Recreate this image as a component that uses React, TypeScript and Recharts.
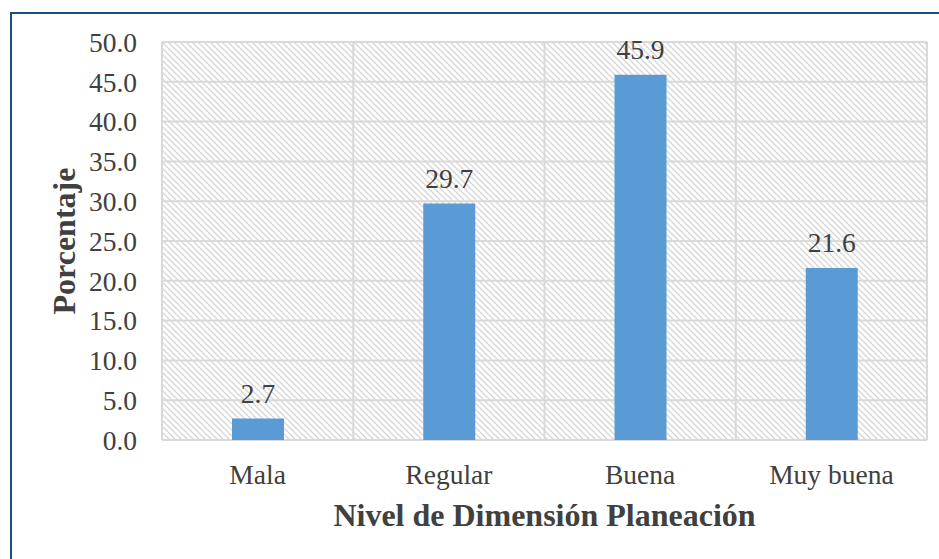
import { BarChart, Bar, XAxis, YAxis, CartesianGrid, LabelList, Label } from "recharts";

const categories = ["Mala", "Regular", "Buena", "Muy buena"];
const porcentajes = [2.7, 29.7, 45.9, 21.6];
const yTicks = [0, 5, 10, 15, 20, 25, 30, 35, 40, 45, 50];

const data = categories.map((nivel, i) => ({ nivel, valor: porcentajes[i] }));

const FONT = "'Liberation Serif', 'Times New Roman', serif";
const TEXT = "#404040";

export default function App() {
  return (
    <div style={{ position: "absolute", left: 0, top: 0, width: 939, height: 559, overflow: "hidden", background: "#fff" }}>
      {/* chart frame, right and bottom edges fall outside the picture */}
      <div
        style={{
          position: "absolute",
          left: 10,
          top: 12,
          width: 1000,
          height: 600,
          borderLeft: "2px solid #1F4E79",
          borderTop: "2px solid #1F4E79",
        }}
      />
      <div style={{ position: "absolute", left: 0, top: 0 }}>
        <BarChart width={939} height={559} data={data} margin={{ top: 42, right: 12, bottom: 0, left: 0 }}>
          <defs>
            <pattern id="hatch" patternUnits="userSpaceOnUse" width="6" height="6">
              <rect width="6" height="6" fill="#fff" />
              <path d="M-1,-1 L7,7 M-1,5 L1,7 M5,-1 L7,1" stroke="#D6D6D6" strokeWidth="1.3" />
            </pattern>
          </defs>
          <CartesianGrid
            fill="url(#hatch)"
            stroke="#D9D9D9"
            strokeWidth={2}
            verticalCoordinatesGenerator={({ offset }: any) =>
              categories.map((_, i) => offset.left + (i * offset.width) / categories.length).concat(offset.left + offset.width)
            }
          />
          <XAxis
            dataKey="nivel"
            height={119}
            axisLine={false}
            tickLine={false}
            tickMargin={18}
            tick={{ fontFamily: FONT, fontSize: 27.5, fill: TEXT }}
          >
            <Label
              value="Nivel de Dimensión Planeación"
              position="insideBottom"
              offset={33}
              style={{ fontFamily: FONT, fontSize: 32, fontWeight: "bold", fill: TEXT }}
            />
          </XAxis>
          <YAxis
            width={162}
            domain={[0, 50]}
            ticks={yTicks}
            interval={0}
            axisLine={false}
            tickLine={false}
            tickMargin={19}
            tickFormatter={(v: number) => v.toFixed(1)}
            tick={{ fontFamily: FONT, fontSize: 27.5, fill: TEXT }}
          >
            <Label
              content={({ viewBox }: any) => {
                const x = viewBox.x + 75;
                const y = viewBox.y + viewBox.height / 2;
                return (
                  <text
                    x={x}
                    y={y}
                    transform={`rotate(-90, ${x}, ${y})`}
                    textAnchor="middle"
                    fontFamily={FONT}
                    fontSize={32}
                    fontWeight="bold"
                    fill={TEXT}
                  >
                    Porcentaje
                  </text>
                );
              }}
            />
          </YAxis>
          <Bar dataKey="valor" fill="#5B9BD5" barSize={52} isAnimationActive={false}>
            <LabelList
              dataKey="valor"
              position="top"
              offset={16}
              formatter={(v: any) => Number(v).toFixed(1)}
              style={{ fontFamily: FONT, fontSize: 27.5, fill: TEXT }}
            />
          </Bar>
        </BarChart>
      </div>
    </div>
  );
}
